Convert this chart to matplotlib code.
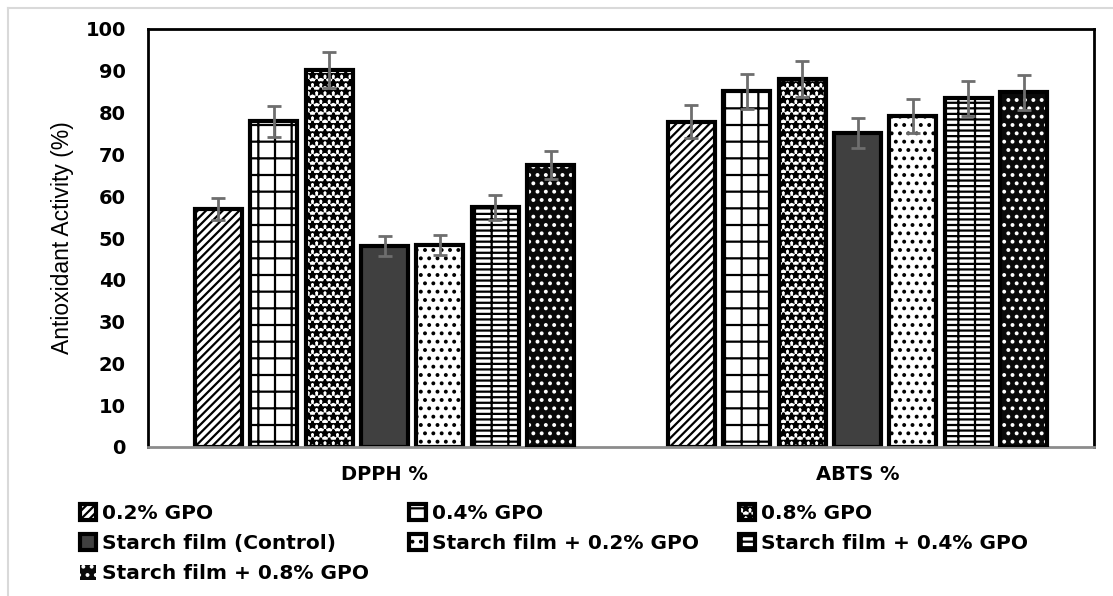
import matplotlib.pyplot as plt
import numpy as np
from matplotlib.patches import Rectangle
from matplotlib.lines import Line2D

plt.rcParams['hatch.linewidth'] = 1.6

# data
assays = ['DPPH %', 'ABTS %']
samples = ['0.2% GPO', '0.4% GPO', '0.8% GPO', 'Starch film (Control)',
           'Starch film + 0.2% GPO', 'Starch film + 0.4% GPO', 'Starch film + 0.8% GPO']
dpph = [56.9, 77.9, 90.3, 48.1, 48.3, 57.3, 67.4]
dpph_err = [2.7, 3.7, 4.3, 2.3, 2.4, 3.0, 3.3]
abts = [77.8, 85.1, 88.0, 75.1, 79.2, 83.4, 84.9]
abts_err = [3.9, 4.2, 4.3, 3.6, 4.0, 4.2, 4.2]

faces = ['white', 'white', 'white', '#404040', 'white', 'white', '#0a0a0a']
hatches = ['////', '+', '**', None, '..', '---|', '..']

fig = plt.figure(figsize=(11.13, 5.96), dpi=100)
ax = fig.add_axes([148 / 1113, 1 - 447 / 596, (1094 - 148) / 1113, (447 - 29) / 596])

x = np.arange(len(assays))
step = 0.117
width = 0.099
handles = []
for i, name in enumerate(samples):
    vals = [dpph[i], abts[i]]
    errs = [dpph_err[i], abts_err[i]]
    pos = x + (i - 3) * step
    if i == 6:
        # dark bar with light hatch, then a black outline on top
        ax.bar(pos, vals, width, color=faces[i], edgecolor='white', lw=0,
               hatch=hatches[i], zorder=2)
        ax.bar(pos, vals, width, fill=False, edgecolor='black', lw=3, zorder=3)
        h = Rectangle((0, 0), 1, 1, facecolor=faces[i], edgecolor='white',
                      hatch='..', lw=0)
    else:
        b = ax.bar(pos, vals, width, color=faces[i], edgecolor='black', lw=3,
                   hatch=hatches[i], zorder=2)
        h = b[0]
    ax.errorbar(pos, vals, yerr=errs, fmt='none', ecolor='#6e6e6e', elinewidth=2,
                capsize=5, capthick=2, zorder=4)
    handles.append(h)

ax.set_xlim(-0.5, 1.5)
ax.set_ylim(0, 100)
ax.set_yticks(range(0, 101, 10))
ax.set_xticks(x)
ax.set_xticklabels(assays, fontsize=14, fontweight='bold')
ax.tick_params(axis='both', length=0)
ax.tick_params(axis='x', pad=13)
ax.tick_params(axis='y', pad=16, labelsize=14)
for t in ax.get_yticklabels():
    t.set_fontweight('bold')
ax.set_ylabel('Antioxidant Activity (%)', fontsize=16.5, family='Liberation Sans',
              labelpad=8)
for s in ['left', 'top', 'right']:
    ax.spines[s].set_linewidth(2)
    ax.spines[s].set_color('black')
ax.spines['bottom'].set_linewidth(2)
ax.spines['bottom'].set_color('#8c8c8c')

# legend laid out row by row like the original (matplotlib fills columns)
order = [0, 3, 6, 1, 4, 2, 5]
fig.legend([handles[k] for k in order], [samples[k] for k in order],
           ncol=3, loc='upper left', bbox_to_anchor=(72 / 1113, 1 - 496 / 596),
           frameon=False, prop={'weight': 'bold', 'size': 14.5},
           handlelength=0.8, handleheight=0.8, handletextpad=0.3,
           columnspacing=2.0, labelspacing=0.55, borderaxespad=0)

# light frame around the whole chart
fig.add_artist(Line2D([8 / 1113, 8 / 1113], [0, 1 - 8 / 596], color='#d9d9d9', lw=1.5))
fig.add_artist(Line2D([8 / 1113, 1], [1 - 8 / 596, 1 - 8 / 596], color='#d9d9d9', lw=1.5))

fig.savefig('out.png', dpi=100)
